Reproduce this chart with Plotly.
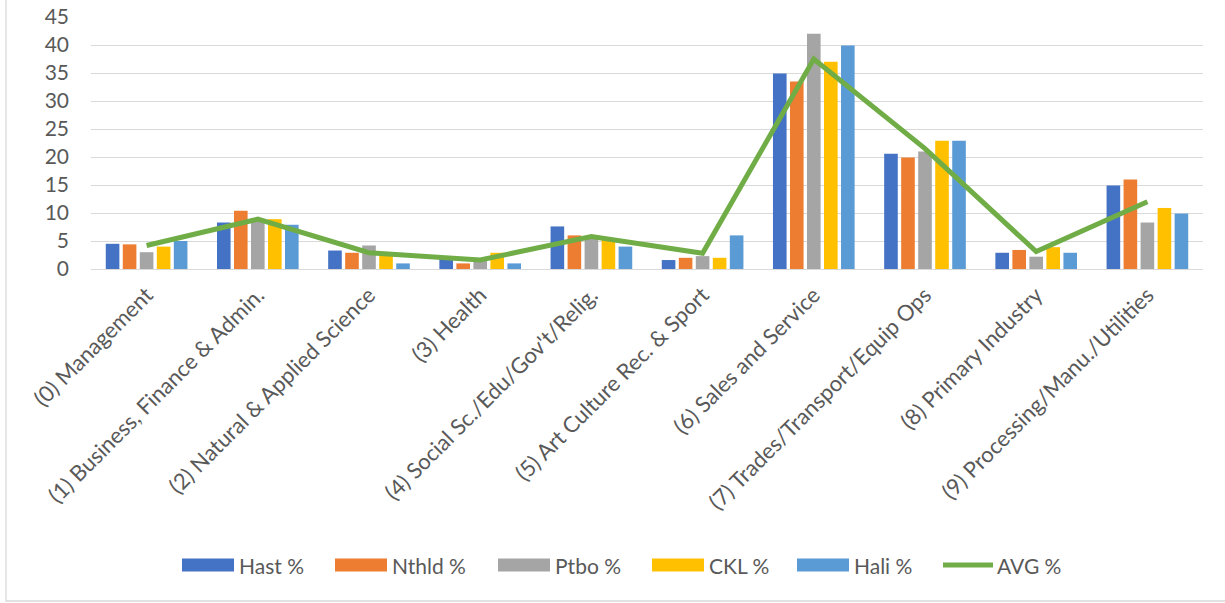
import plotly.graph_objects as go

# Occupation groups (NOC broad categories)
categories = [
    "(0) Management",
    "(1) Business, Finance & Admin.",
    "(2) Natural & Applied Science",
    "(3) Health",
    "(4) Social Sc./Edu/Gov't/Relig.",
    "(5) Art Culture Rec. & Sport",
    "(6) Sales and Service",
    "(7) Trades/Transport/Equip Ops",
    "(8) Primary Industry",
    "(9) Processing/Manu./Utilities",
]

# Share of employment by occupation group, percent
hast = [4.5, 8.3, 3.3, 1.8, 7.6, 1.6, 34.9, 20.6, 2.9, 14.9]
nthld = [4.4, 10.4, 2.9, 1.0, 6.0, 2.0, 33.5, 19.9, 3.4, 16.0]
ptbo = [3.0, 8.8, 4.2, 1.5, 5.7, 2.3, 42.0, 21.0, 2.2, 8.3]
ckl = [4.0, 8.9, 2.8, 2.9, 5.5, 2.0, 37.0, 22.9, 3.9, 10.9]
hali = [5.0, 7.9, 1.0, 1.0, 4.0, 6.0, 39.9, 22.9, 2.9, 9.9]
avg = [4.2, 8.9, 2.9, 1.6, 5.8, 2.8, 37.5, 21.5, 3.1, 12.0]

y_ticks = [0, 5, 10, 15, 20, 25, 30, 35, 40, 45]

bar_series = [
    ("Hast %", hast, "#4472C4"),
    ("Nthld %", nthld, "#ED7D31"),
    ("Ptbo %", ptbo, "#A5A5A5"),
    ("CKL %", ckl, "#FFC000"),
    ("Hali %", hali, "#5B9BD5"),
]
line_name, line_color = "AVG %", "#70AD47"

W, H = 1225, 603
ML, MR, MT, MB = 91, 22, 17, 334
PW, PH = W - ML - MR, H - MT - MB
FONT = "Lato"
TEXT = "#595959"
GRID = "#D9D9D9"


def px_x(px):
    return (px - ML) / PW


def px_y(py):
    return (H - MB - py) / PH


fig = go.Figure()
for name, vals, color in bar_series:
    fig.add_trace(go.Bar(x=categories, y=vals, name=name,
                         marker=dict(color=color, line=dict(width=0)),
                         showlegend=False))
fig.add_trace(go.Scatter(x=categories, y=avg, name=line_name, mode="lines",
                         line=dict(color=line_color, width=5),
                         showlegend=False))

# Legend row along the bottom: swatch + label for each series
shapes = []
annotations = []
legend_y = 565
legend_items = [(n, c, "bar") for n, _, c in bar_series] + [(line_name, line_color, "line")]
swatch_x = [182, 335, 498, 652, 797, 940]
for (name, color, kind), x0 in zip(legend_items, swatch_x):
    x1 = x0 + 52
    if kind == "bar":
        shapes.append(dict(type="rect", xref="paper", yref="paper",
                           x0=px_x(x0), x1=px_x(x1),
                           y0=px_y(legend_y + 6.5), y1=px_y(legend_y - 6.5),
                           fillcolor=color, line=dict(width=0)))
    else:
        shapes.append(dict(type="line", xref="paper", yref="paper",
                           x0=px_x(x0 + 3), x1=px_x(x1 + 1),
                           y0=px_y(legend_y), y1=px_y(legend_y),
                           line=dict(color=color, width=5)))
    annotations.append(dict(text=name, xref="paper", yref="paper",
                            x=px_x(x1 + 3), y=px_y(legend_y),
                            xanchor="left", yanchor="middle", showarrow=False,
                            font=dict(family=FONT, size=21, color=TEXT)))

# Chart frame
shapes.append(dict(type="rect", xref="paper", yref="paper",
                   x0=px_x(6), x1=px_x(W + 5), y0=px_y(601), y1=px_y(-5),
                   line=dict(color="#D9D9D9", width=1.3), fillcolor="rgba(0,0,0,0)",
                   layer="below"))

fig.update_layout(
    width=W, height=H,
    margin=dict(l=ML, r=MR, t=MT, b=MB, pad=0, autoexpand=False),
    paper_bgcolor="white", plot_bgcolor="white",
    barmode="group", bargap=0.235, bargroupgap=0.2,
    showlegend=False,
    font=dict(family=FONT, size=21, color=TEXT),
    shapes=shapes, annotations=annotations,
)
fig.update_xaxes(type="category", tickangle=-45, showgrid=False, automargin=False,
                 showline=False, ticks="", ticklabelstandoff=8,
                 tickfont=dict(family=FONT, size=22, color=TEXT))
fig.update_yaxes(range=[0, 45], tickvals=y_ticks, showgrid=True, automargin=False,
                 gridcolor=GRID, gridwidth=1.3, zeroline=True,
                 zerolinecolor=GRID, zerolinewidth=1.3, showline=False,
                 ticks="", ticklabelstandoff=21,
                 tickfont=dict(family=FONT, size=21, color=TEXT))

fig.write_html("out.html")
